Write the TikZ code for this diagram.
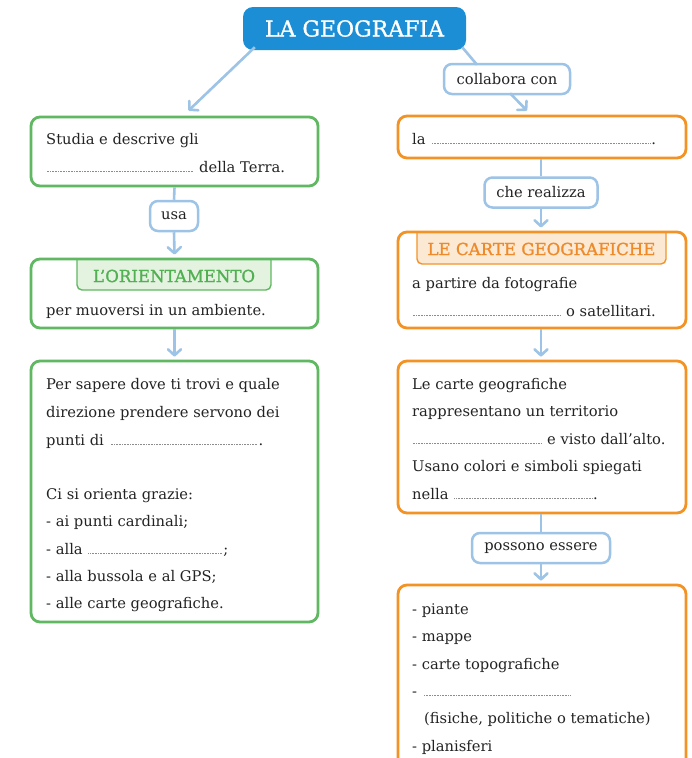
\documentclass[tikz,border=0pt]{standalone}
\usepackage{fontspec}
\setmainfont{DejaVu Serif}
\newfontfamily\heavy[FakeBold=1.2]{DejaVu Serif}
\usetikzlibrary{arrows.meta}
\definecolor{ctitle}{RGB}{27,142,214}
\definecolor{clblue}{RGB}{157,195,230}
\definecolor{cgreen}{RGB}{96,184,98}
\definecolor{corange}{RGB}{243,147,37}
\definecolor{cgtab}{RGB}{228,242,224}
\definecolor{cotab}{RGB}{252,233,211}
\definecolor{cgtext}{RGB}{80,176,82}
\definecolor{cotext}{RGB}{238,138,42}
\definecolor{ctext}{RGB}{35,35,35}
\definecolor{cdot}{RGB}{140,140,140}
\newcommand\blank[1]{\leaders\hbox to 1.6pt{\hss\textcolor{cdot}{\rule{0.6pt}{0.6pt}}\hss}\hskip #1\relax}
\newcommand\fs{\fontsize{14.7}{16}\selectfont}
\begin{document}
\begin{tikzpicture}[x=1pt,y=-1pt,
  box/.style={draw, line width=2.8pt, rounded corners=9pt, inner sep=0pt, fill=white},
  gbox/.style={box, draw=cgreen},
  obox/.style={box, draw=corange},
  lbl/.style={draw=clblue, line width=2.5pt, rounded corners=8pt, fill=white, font=\fs, text=ctext, inner sep=0pt, minimum height=30pt},
  conn/.style={draw=clblue, line width=2.6pt},
  arr/.style={conn, -{Straight Barb[length=6pt,width=13pt,line cap=round,line join=round]}},
  txt/.style={anchor=base west, inner sep=0pt, text=ctext, font=\fs},
  tabtxt/.style={inner sep=0pt, font=\heavy\fontsize{16.6}{18}\selectfont}
]
\clip (0,0) rectangle (692,758);
\fill[white] (0,0) rectangle (692,758);

\node[draw=none, fill=ctitle, rounded corners=10pt, minimum width=223pt, minimum height=43pt, inner sep=0pt,
      text=white, font=\heavy\fontsize{22}{24}\selectfont] (title) at (354.5,28.5) {LA GEOGRAFIA};

% left column boxes
\node[gbox, minimum width=287pt, minimum height=69pt] (g1) at (174.5,151.5) {};
\node[gbox, draw=none, outer sep=0pt, minimum width=287pt, minimum height=69pt] (g2) at (174.5,293.5) {};
\node[gbox, minimum width=287pt, minimum height=261pt] (g3) at (174.5,491.5) {};
% right column boxes
\node[obox, minimum width=288pt, minimum height=42pt] (o1) at (542,137) {};
\node[obox, draw=none, outer sep=0pt, minimum width=288pt, minimum height=96pt] (o2) at (542,280) {};
\node[obox, minimum width=288pt, minimum height=152pt] (o3) at (542,437) {};
\node[obox, minimum width=288pt, minimum height=260pt] (o4) at (542,715) {};

% ---------- tabs and borders of the boxes with a heading ----------
\filldraw[fill=cgtab, draw=cgreen, line width=1.4pt, rounded corners=5pt]
  (77,260) -- (77,290) -- (271,290) -- (271,260);
\draw[cgreen, line width=2.8pt, rounded corners=9pt] (g2.south west) rectangle (g2.north east);
\node[tabtxt, text=cgtext] (tabg) at (174,276) {L’ORIENTAMENTO};

\filldraw[fill=cotab, draw=corange, line width=1.4pt, rounded corners=5pt]
  (417,233) -- (417,264) -- (666,264) -- (666,233);
\draw[corange, line width=2.8pt, rounded corners=9pt] (o2.south west) rectangle (o2.north east);
\node[tabtxt, text=cotext] (tabo) at (541.5,249) {LE CARTE GEOGRAFICHE};

% connectors
\draw[arr] ([xshift=12pt,yshift=3pt]title.south west) -- ([xshift=14pt,yshift=5pt]g1.north);
\node[lbl, minimum width=126pt] (col) at (507,79) {collabora con};
\draw[conn] ([xshift=-4pt,yshift=3pt]title.south east) -- ([xshift=-30pt,yshift=-2pt]col.north);
\draw[arr] ([xshift=3pt,yshift=2pt]col.south) -- ([xshift=-15pt,yshift=4pt]o1.north);

\node[lbl, minimum width=48pt] (usa) at (174,216) {usa};
\draw[conn] (g1.south) -- (usa.north);
\draw[arr] (usa.south) -- ([yshift=4.5pt]g2.north);
\draw[arr] ([yshift=-1.4pt]g2.south) -- ([yshift=3pt]g3.north);

\node[lbl, minimum width=113pt] (che) at (541,192.5) {che realizza};
\draw[conn] ([xshift=-1pt]o1.south) -- (che.north);
\draw[arr] (che.south) -- ([xshift=-1pt,yshift=4.5pt]o2.north);
\draw[arr] ([xshift=-1pt,yshift=-1.4pt]o2.south) -- ([xshift=-1pt,yshift=3pt]o3.north);

\node[lbl, minimum width=138pt] (pos) at (541,548) {possono essere};
\draw[conn] ([xshift=-1pt]o3.south) -- (pos.north);
\draw[arr] (pos.south) -- ([xshift=-1pt,yshift=3pt]o4.north);

% ---------- texts, left ----------
\node[txt] (t1a) at (46,144) {Studia e descrive gli};
\node[txt] (t1b) at (46,172) {\blank{148pt}\hskip5pt della Terra.};
\node[txt] (t2a) at (46,315) {per muoversi in un ambiente.};
\node[txt] (t3a) at (46,389) {Per sapere dove ti trovi e quale};
\node[txt] (t3b) at (46,417) {direzione prendere servono dei};
\node[txt] (t3c) at (46,445) {punti di \blank{150pt}.};
\node[txt] (t3d) at (46,499) {Ci si orienta grazie:};
\node[txt] (t3e) at (46,526) {- ai punti cardinali;};
\node[txt] (t3f) at (46,554) {- alla \blank{136pt};};
\node[txt] (t3g) at (46,581) {- alla bussola e al GPS;};
\node[txt] (t3h) at (46,608) {- alle carte geografiche.};

% ---------- texts, right ----------
\node[txt] (u1a) at (412,144) {la \blank{221pt}.};
\node[txt] (u2a) at (412,288) {a partire da fotografie};
\node[txt] (u2b) at (412,316) {\blank{149pt}\hskip5pt o satellitari.};
\node[txt] (u3a) at (412,389) {Le carte geografiche};
\node[txt] (u3b) at (412,416) {rappresentano un territorio};
\node[txt] (u3c) at (412,444) {\blank{130pt}\hskip5pt e visto dall’alto.};
\node[txt] (u3d) at (412,471) {Usano colori e simboli spiegati};
\node[txt] (u3e) at (412,499) {nella \blank{140pt}.};
\node[txt] (u4a) at (412,614) {- piante};
\node[txt] (u4b) at (412,641) {- mappe};
\node[txt] (u4c) at (412,669) {- carte topografiche};
\node[txt] (u4d) at (412,696) {- \blank{149pt}\null};
\node[txt] (u4e) at (424,723) {(fisiche, politiche o tematiche)};
\node[txt] (u4f) at (412,751) {- planisferi};
\end{tikzpicture}
\end{document}
